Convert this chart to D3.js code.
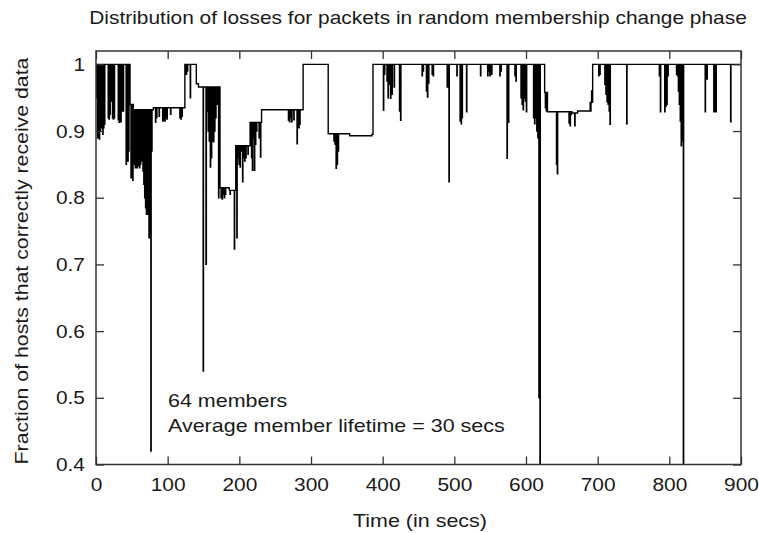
<!DOCTYPE html>
<html>
<head>
<meta charset="utf-8">
<script src="https://cdn.jsdelivr.net/npm/d3@7"></script>
<style>
  html, body { margin: 0; padding: 0; background: #fff; }
  svg { display: block; font-family: "Liberation Sans", Arial, Helvetica, sans-serif; }
</style>
</head>
<body>
<svg id="chart" width="759" height="533"></svg>
<script>
// Baseline fraction of hosts (step function, value holds until next change)
const baseTimes  = [0, 47.5, 52, 80, 124, 140, 143, 173, 186, 195, 215, 231, 289, 324, 354, 385, 386.5, 626, 630, 664, 672, 689.5, 693];
const baseValues = [1, 0.94, 0.932, 0.935, 1, 0.971, 0.966, 0.815, 0.811, 0.878, 0.913, 0.932, 1, 0.896, 0.893, 0.895, 1, 0.958, 0.929, 0.927, 0.93, 0.943, 1];

// Individual packets with losses: send time and fraction of hosts that got them
const dipTimes = [
  1, 2.2, 3.4, 4.6, 5.8, 7, 8.2, 9.4, 10.6, 11.8,
  17, 18.2, 19.4, 20.6, 21.8, 23, 24.2, 25.4,
  31, 32.2, 33.4, 34.6, 35.8, 38,
  42, 43.2, 44.4, 45.6, 48.8, 50, 51.2,
  53.5, 54.7, 55.9, 57.1, 58.3, 59.5, 60.7, 61.9, 63.1, 64.3, 65.5, 66.7, 67.9, 69.1, 70.3, 71.5, 72.7, 73.9, 75.1, 76.5, 77.7,
  83, 84.5, 88, 93, 94.5, 96, 97.5, 99, 104, 117, 118.5, 120,
  126, 127.5, 131.5,
  149.5, 153.5, 155, 156.5, 158, 159.5, 161, 162.5, 164, 165.5, 167, 169, 171,
  174.5, 176, 177.5, 179, 180.5, 187, 193, 196.5, 198, 199.5, 201, 202.5, 204.5, 206, 207.5, 209, 212,
  215.5, 217, 218.2, 219.5, 221, 222.5, 224, 227.5, 229.5,
  268.5, 270, 271.5, 273, 276, 280.5, 283, 284.3,
  332, 333.5, 335, 336.5, 338,
  401, 402.5, 406, 407.5, 409, 411, 413, 416, 423.5, 425,
  455, 456.5, 461, 462.5, 464, 469, 470.5, 490, 492.5, 503.5, 508, 509.5, 510.8, 517,
  536.5, 546.5, 548, 549.5, 552, 563.5, 565, 573.5, 575.5, 584.5, 586,
  593, 594.5, 596, 597.5, 599, 600.5, 610.5, 612, 613.5, 615, 616.5, 618, 619.5,
  627, 628.3, 642.5, 643.7, 660, 661.5, 663, 668, 690.2, 691.5,
  701.5, 703, 710, 711.5, 713, 714.5, 716, 717.2, 740.5,
  786, 787.5, 793.5, 795, 796.5, 798,
  810, 811.3, 812.6, 813.9, 815.2, 816.5, 817.8, 819.5,
  850, 851.5, 852.5, 862, 863.5, 865, 885.5
];
const dipValues = [
  0.95, 0.89, 0.905, 0.888, 0.9, 0.91, 0.905, 0.895, 0.905, 0.91,
  0.92, 0.918, 0.925, 0.955, 0.945, 0.92, 0.918, 0.92,
  0.917, 0.913, 0.92, 0.914, 0.93, 0.93,
  0.85, 0.86, 0.855, 0.87, 0.83, 0.84, 0.826,
  0.85, 0.845, 0.85, 0.845, 0.848, 0.85, 0.845, 0.85, 0.86, 0.855, 0.84, 0.82, 0.8, 0.785, 0.775, 0.78, 0.775, 0.74, 0.745, 0.42, 0.87,
  0.913, 0.92, 0.922, 0.915, 0.917, 0.915, 0.92, 0.918, 0.925, 0.92, 0.918, 0.922,
  0.985, 0.99, 0.95,
  0.54, 0.70, 0.93, 0.9, 0.885, 0.846, 0.86, 0.885, 0.884, 0.9, 0.92, 0.94, 0.8,
  0.8, 0.798, 0.805, 0.8, 0.805, 0.805, 0.723, 0.74, 0.86, 0.85, 0.846, 0.87, 0.824, 0.86, 0.855, 0.86, 0.865,
  0.88, 0.86, 0.841, 0.89, 0.841, 0.88, 0.9, 0.89, 0.861,
  0.916, 0.914, 0.92, 0.914, 0.917, 0.881, 0.905, 0.91,
  0.885, 0.88, 0.844, 0.85, 0.87,
  0.931, 0.985, 0.975, 0.95, 0.97, 0.949, 0.955, 0.966, 0.93, 0.916,
  0.983, 0.99, 0.96, 0.951, 0.972, 0.985, 0.983, 0.966, 0.824, 0.983, 0.915, 0.911, 0.92, 0.929,
  0.983, 0.983, 0.99, 0.983, 0.985, 0.983, 0.99, 0.859, 0.913, 0.983, 0.975,
  0.95, 0.94, 0.932, 0.95, 0.945, 0.929, 0.92, 0.911, 0.92, 0.9, 0.89, 0.5, 0.4,
  0.935, 0.93, 0.85, 0.836, 0.912, 0.908, 0.925, 0.908, 0.93, 0.96,
  0.983, 0.985, 0.97, 0.955, 0.944, 0.94, 0.93, 0.91, 0.911,
  0.983, 0.929, 0.929, 0.937, 0.94, 0.983,
  0.985, 0.983, 0.96, 0.94, 0.915, 0.878, 0.885, 0.4,
  0.929, 0.98, 0.978, 0.929, 0.93, 0.929, 0.914
];

const xTicks = [0, 100, 200, 300, 400, 500, 600, 700, 800, 900];
const yTicks = [0.4, 0.5, 0.6, 0.7, 0.8, 0.9, 1];

const titleText = "Distribution of losses for packets in random membership change phase";
const xLabel = "Time (in secs)";
const yLabel = "Fraction of hosts that correctly receive data";
const noteLines = ["64 members", "Average member lifetime = 30 secs"];

const svg = d3.select("#chart");
const plotLeft = 96, plotRight = 741, plotTop = 51, plotBottom = 464.5;

const x = d3.scaleLinear().domain([0, 900]).range([plotLeft, plotRight]);
const y = d3.scaleLinear().domain([0.4, 1.02]).range([plotBottom, plotTop]);

// baseline value in effect at time t
function baseAt(t) {
  const i = d3.bisectRight(baseTimes, t) - 1;
  return baseValues[Math.max(0, i)];
}

// merge step changes and short loss dips into one step series
const events = [];
baseTimes.forEach((t, i) => events.push({ t, v: baseValues[i] }));
dipTimes.forEach((t, i) => {
  events.push({ t, v: dipValues[i] });
  events.push({ t: t + 0.5, v: baseAt(t + 0.5) });
});
events.sort((a, b) => a.t - b.t);
events.push({ t: 900, v: baseAt(900) });

svg.append("clipPath").attr("id", "plot-clip")
  .append("rect").attr("x", plotLeft).attr("y", plotTop)
  .attr("width", plotRight - plotLeft).attr("height", plotBottom - plotTop);

const line = d3.line().x(d => x(d.t)).y(d => y(d.v)).curve(d3.curveStepAfter);

svg.append("path")
  .datum(events)
  .attr("clip-path", "url(#plot-clip)")
  .attr("fill", "none")
  .attr("stroke", "#000")
  .attr("stroke-width", 1.4)
  .attr("d", line);

// axes with inward ticks on all four sides
const tickLen = 8;
const axisColor = "#333";
const fontSize = 19;
const textColor = "#1a1a1a";

// the lettering is set slightly wide
function widen(sel, factor) {
  sel.each(function () {
    const w = this.getComputedTextLength();
    d3.select(this).attr("textLength", w * factor).attr("lengthAdjust", "spacingAndGlyphs");
  });
}

const gx = svg.append("g").attr("transform", `translate(0,${plotBottom})`)
  .call(d3.axisBottom(x).tickValues(xTicks).tickSizeInner(-tickLen).tickSizeOuter(0).tickPadding(13).tickFormat(d3.format("d")));
const gxt = svg.append("g").attr("transform", `translate(0,${plotTop})`)
  .call(d3.axisTop(x).tickValues(xTicks).tickSizeInner(-tickLen).tickSizeOuter(0).tickFormat(""));
const gy = svg.append("g").attr("transform", `translate(${plotLeft},0)`)
  .call(d3.axisLeft(y).tickValues(yTicks).tickSizeInner(-tickLen).tickSizeOuter(0).tickPadding(11)
    .tickFormat(d => d === 1 ? "1" : d3.format(".1f")(d)));
const gyr = svg.append("g").attr("transform", `translate(${plotRight},0)`)
  .call(d3.axisRight(y).tickValues(yTicks).tickSizeInner(-tickLen).tickSizeOuter(0).tickFormat(""));

[gx, gxt, gy, gyr].forEach(g => {
  g.select(".domain").remove();
  g.selectAll(".tick line").attr("stroke", axisColor).attr("stroke-width", 1.3);
  g.selectAll(".tick text").attr("fill", textColor).attr("font-size", fontSize)
    .attr("font-family", "'Liberation Sans', Arial, sans-serif");
});
widen(gx.selectAll(".tick text"), 1.1);
widen(gy.selectAll(".tick text"), 1.1);

svg.append("rect")
  .attr("x", plotLeft).attr("y", plotTop)
  .attr("width", plotRight - plotLeft).attr("height", plotBottom - plotTop)
  .attr("fill", "none").attr("stroke", axisColor).attr("stroke-width", 1.5);

// titles
const title = svg.append("text").attr("x", 418).attr("y", 24).attr("text-anchor", "middle")
  .attr("font-size", fontSize).attr("fill", textColor).text(titleText);
const xl = svg.append("text").attr("x", 420).attr("y", 527).attr("text-anchor", "middle")
  .attr("font-size", fontSize).attr("fill", textColor).text(xLabel);
const yl = svg.append("text").attr("transform", "translate(28,261) rotate(-90)").attr("text-anchor", "middle")
  .attr("font-size", fontSize).attr("fill", textColor).text(yLabel);
widen(title, 1.1);
widen(xl, 1.13);
widen(yl, 1.12);

// annotation
const notes = svg.append("g").selectAll("text").data(noteLines).join("text")
  .attr("x", 168).attr("y", (d, i) => 407 + i * 25)
  .attr("font-size", fontSize).attr("fill", textColor).text(d => d);
widen(notes, 1.13);
</script>
</body>
</html>
